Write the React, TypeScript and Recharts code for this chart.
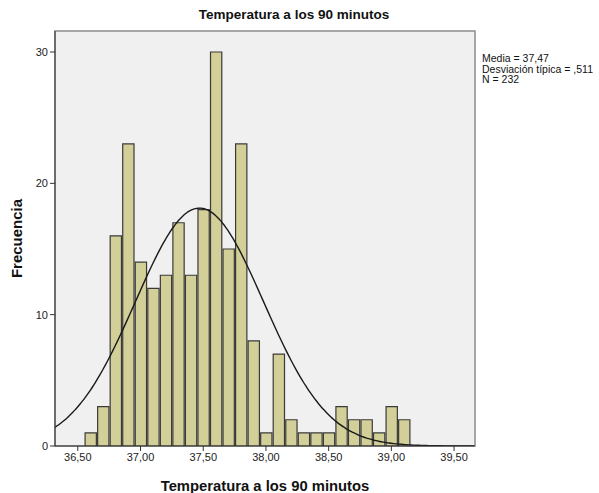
import {
  Bar,
  ComposedChart,
  Label,
  Line,
  ReferenceArea,
  XAxis,
  YAxis,
} from 'recharts';

// histogram bins (centre of each 0.1 bin) and counts
const binCenters = [
  36.6, 36.7, 36.8, 36.9, 37.0, 37.1, 37.2, 37.3, 37.4, 37.5, 37.6, 37.7, 37.8,
  37.9, 38.0, 38.1, 38.2, 38.3, 38.4, 38.5, 38.6, 38.7, 38.8, 38.9, 39.0, 39.1,
];
const counts = [
  1, 3, 16, 23, 14, 12, 13, 17, 13, 18, 30, 15, 23, 8, 1, 7, 2, 1, 1, 1, 3, 2, 2,
  1, 3, 2,
];
const xTicks = [36.5, 37.0, 37.5, 38.0, 38.5, 39.0, 39.5];
const yTicks = [0, 10, 20, 30];

// summary stats shown next to the plot
const MEAN = 37.47;
const SD = 0.511;
const N = 232;
const BIN = 0.1;

const X_MIN = 36.318;
const X_MAX = 39.667;
const Y_MAX = 31.6;

const W = 599;
const H = 493;
const M = { top: 31, right: 124, left: 0, bottom: 0 };
const Y_AXIS_W = 55;
const X_AXIS_H = 47;

const bars = binCenters.map((x, i) => ({ x, count: counts[i] }));

// fitted normal curve, scaled to counts per bin
const curve: { x: number; y: number }[] = [];
for (let x = X_MIN; x <= X_MAX + 1e-9; x += 0.02) {
  const z = (x - MEAN) / SD;
  curve.push({ x, y: (N * BIN * Math.exp(-0.5 * z * z)) / (SD * Math.sqrt(2 * Math.PI)) });
}

const plotW = W - M.left - M.right - Y_AXIS_W;
const barPx = (plotW / (X_MAX - X_MIN)) * BIN;

const fmtX = (v: number) => v.toFixed(2).replace('.', ',');
const font = 'Arial, "Liberation Sans", sans-serif';
const tickStyle = { fontSize: 11, fill: '#222', fontFamily: font };

export default function App() {
  return (
    <div style={{ position: 'absolute', left: 0, top: 0, width: W, height: H, background: '#fff', fontFamily: font }}>
      <div
        style={{
          position: 'absolute',
          left: 0,
          width: 588,
          top: 7,
          textAlign: 'center',
          fontSize: 13.5,
          fontWeight: 'bold',
          color: '#111',
        }}
      >
        Temperatura a los 90 minutos
      </div>
      <div style={{ position: 'absolute', left: 482, top: 53, fontSize: 10.5, lineHeight: '10.5px', color: '#111' }}>
        <div>Media = 37,47</div>
        <div>Desviación típica = ,511</div>
        <div>N = 232</div>
      </div>
      <ComposedChart width={W} height={H} data={bars} margin={M} barCategoryGap={0} barGap={0}>
        <ReferenceArea
          x1={X_MIN}
          x2={X_MAX}
          y1={0}
          y2={Y_MAX}
          fill="#F0F0F0"
          fillOpacity={1}
          stroke="#8c8c8c"
          strokeWidth={1.5}
          ifOverflow="visible"
        />
        <XAxis
          dataKey="x"
          type="number"
          domain={[X_MIN, X_MAX]}
          allowDataOverflow
          ticks={xTicks}
          tickFormatter={fmtX}
          tick={tickStyle}
          tickSize={5}
          stroke="#333"
          height={X_AXIS_H}
        >
          <Label
            value="Temperatura a los 90 minutos"
            position="insideBottom"
            offset={2}
            style={{ fontSize: 14.8, fontWeight: 'bold', fill: '#111', fontFamily: font }}
          />
        </XAxis>
        {/* separate hidden axis for the curve so the bar width comes from the bins only */}
        <XAxis
          xAxisId="curve"
          dataKey="x"
          type="number"
          domain={[X_MIN, X_MAX]}
          allowDataOverflow
          hide
        />
        <YAxis
          type="number"
          domain={[0, Y_MAX]}
          allowDataOverflow
          ticks={yTicks}
          tick={tickStyle}
          tickSize={5}
          stroke="#333"
          width={Y_AXIS_W}
        >
          <Label
            value="Frecuencia"
            angle={-90}
            position="insideLeft"
            offset={17}
            style={{ fontSize: 15, fontWeight: 'bold', fill: '#111', fontFamily: font, textAnchor: 'middle' }}
          />
        </YAxis>
        <Bar
          dataKey="count"
          barSize={barPx}
          fill="#D3CF98"
          stroke="#3a3a3a"
          strokeWidth={1.2}
          isAnimationActive={false}
        />
        <Line
          xAxisId="curve"
          data={curve}
          dataKey="y"
          type="monotone"
          stroke="#1a1a1a"
          strokeWidth={1.4}
          dot={false}
          isAnimationActive={false}
        />
      </ComposedChart>
    </div>
  );
}
